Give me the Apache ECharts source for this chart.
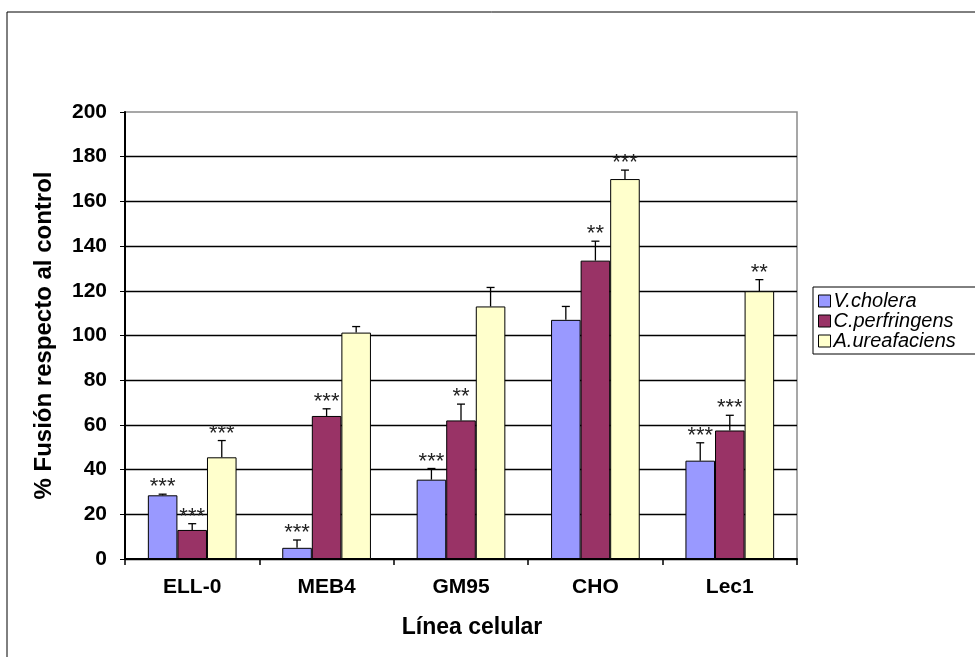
<!DOCTYPE html>
<html>
<head>
<meta charset="utf-8">
<script src="https://cdn.jsdelivr.net/npm/echarts@6/dist/echarts.min.js"></script>
<style>html,body{margin:0;padding:0;background:#fff}#c{width:975px;height:657px}</style>
</head>
<body>
<div id="c"></div>
<script>
var categories = ['ELL-0', 'MEB4', 'GM95', 'CHO', 'Lec1'];
var seriesNames = ['V.cholera', 'C.perfringens', 'A.ureafaciens'];
var vCholera = [28.5, 5, 35.5, 107, 44];
var cPerfringens = [13, 64, 62, 133.5, 57.5];
var aUreafaciens = [45.5, 101.3, 113, 170, 119.8];
var vCholeraErr = [0.5, 3.5, 5, 6, 8];
var cPerfringensErr = [2.8, 3.2, 7.3, 8.7, 6.8];
var aUreafaciensErr = [7.5, 2.7, 8.5, 4, 5.2];
var vCholeraSig = ['***', '***', '***', '', '***'];
var cPerfringensSig = ['***', '***', '**', '**', '***'];
var aUreafaciensSig = ['***', '', '', '***', '**'];
var yTicks = [0, 20, 40, 60, 80, 100, 120, 140, 160, 180, 200];

var values = [vCholera, cPerfringens, aUreafaciens];
var errs = [vCholeraErr, cPerfringensErr, aUreafaciensErr];
var sigs = [vCholeraSig, cPerfringensSig, aUreafaciensSig];
var colors = ['#9999FF', '#993366', '#FFFFCC'];
var FONT = '"Liberation Sans", Arial, sans-serif';
var GAP = 0.34;

function makeErr(k) {
  var data = categories.map(function (c, i) {
    return [i, values[k][i], values[k][i] + errs[k][i], sigs[k][i]];
  });
  return {
    type: 'custom',
    name: seriesNames[k] + ' err',
    data: data,
    encode: { x: 0, y: [1, 2] },
    z: 5,
    silent: true,
    renderItem: function (params, api) {
      var idx = api.value(0);
      var base = api.coord([idx, api.value(1)]);
      var top = api.coord([idx, api.value(2)]);
      var band = api.size([1, 0])[0];
      var bw = band * (1 - GAP) / 3;
      var x = base[0] + (k - 1) * bw;
      var cap = 4;
      var st = { stroke: '#000', lineWidth: 1.3 };
      var children = [
        { type: 'line', shape: { x1: x, y1: base[1], x2: x, y2: top[1] }, style: st },
        { type: 'line', shape: { x1: x - cap, y1: top[1], x2: x + cap, y2: top[1] }, style: st }
      ];
      var s = data[params.dataIndex][3];
      if (s) {
        children.push({
          type: 'text',
          style: {
            text: s, x: x, y: top[1] + 4,
            align: 'center', verticalAlign: 'bottom',
            font: '22px ' + FONT, fill: '#222'
          }
        });
      }
      return { type: 'group', children: children };
    }
  };
}

var series = [];
for (var k = 0; k < 3; k++) {
  series.push({
    type: 'bar',
    name: seriesNames[k],
    data: values[k],
    barGap: '0%',
    barCategoryGap: (GAP * 100) + '%',
    itemStyle: { color: colors[k], borderColor: '#000', borderWidth: 1 },
    z: 2
  });
}
for (var k = 0; k < 3; k++) series.push(makeErr(k));

var chart = echarts.init(document.getElementById('c'), null, { renderer: 'canvas' });
chart.setOption({
  animation: false,
  backgroundColor: '#fff',
  grid: { left: 125, right: 178, top: 112, bottom: 98, show: true, borderColor: '#8a8a8a', borderWidth: 1.5 },
  legend: {
    data: seriesNames,
    orient: 'vertical',
    left: 813, top: 287,
    itemWidth: 12, itemHeight: 12, itemGap: 0,
    padding: [4, 40, 3, 5],
    borderColor: '#000', borderWidth: 1,
    icon: 'rect',
    textStyle: { fontFamily: FONT, fontStyle: 'italic', fontSize: 20, lineHeight: 20, color: '#000', padding: [0, 0, 0, -2] },
    itemStyle: { borderColor: '#000', borderWidth: 1 }
  },
  xAxis: {
    type: 'category',
    data: categories,
    name: 'Línea celular',
    nameLocation: 'middle',
    nameGap: 57,
    nameTextStyle: { fontFamily: FONT, fontWeight: 'bold', fontSize: 23, color: '#000', padding: [0, 0, 0, 22] },
    axisLine: { lineStyle: { color: '#000', width: 2 } },
    axisTick: { show: true, length: 6, inside: false, lineStyle: { color: '#000', width: 1.5 } },
    axisLabel: { fontFamily: FONT, fontWeight: 'bold', fontSize: 21, color: '#000', margin: 18 }
  },
  yAxis: {
    type: 'value',
    min: 0, max: 200, interval: 20,
    name: '% Fusión respecto al control',
    nameLocation: 'middle',
    nameGap: 69,
    nameTextStyle: { fontFamily: FONT, fontWeight: 'bold', fontSize: 24, color: '#000' },
    axisLine: { show: true, lineStyle: { color: '#000', width: 2 } },
    axisTick: { show: true, length: 5, lineStyle: { color: '#000', width: 1 } },
    axisLabel: {
      fontFamily: FONT, fontWeight: 'bold', fontSize: 21, color: '#000', margin: 18,
      formatter: function (v) { return yTicks.indexOf(v) >= 0 ? String(v) : ''; }
    },
    splitLine: { show: true, showMaxLine: false, lineStyle: { color: '#000', width: 1.3 } }
  },
  graphic: [{
    type: 'rect',
    shape: { x: 7, y: 12, width: 990, height: 700 },
    style: { fill: 'none', stroke: '#000', lineWidth: 1 },
    silent: true, z: -10
  }],
  series: series
});
</script>
</body>
</html>
